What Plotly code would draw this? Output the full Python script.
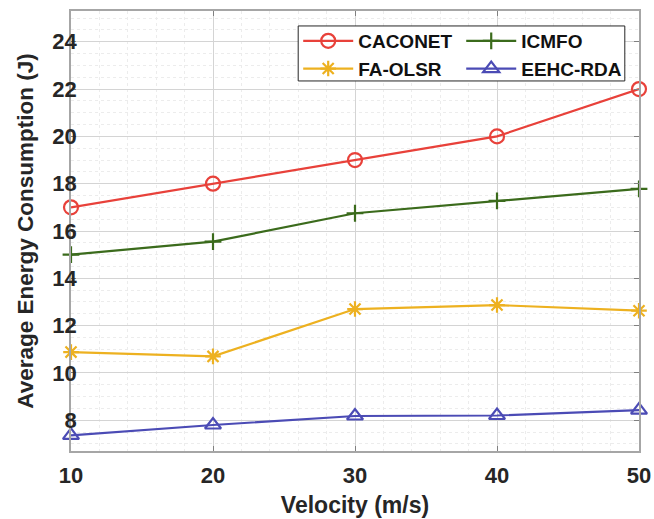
import plotly.graph_objects as go

velocity = [10, 20, 30, 40, 50]
caconet = [17.0, 18.0, 19.0, 20.0, 22.0]
icmfo = [15.0, 15.55, 16.75, 17.27, 17.78]
fa_olsr = [10.88, 10.7, 12.7, 12.87, 12.63]
eehc_rda = [7.36, 7.8, 8.18, 8.2, 8.43]

series = [
    ("CACONET", caconet, "#e8413a", "circle-open", 14, "legend"),
    ("ICMFO", icmfo, "#3b6b1c", "cross-thin-open", 12, "legend2"),
    ("FA-OLSR", fa_olsr, "#edb120", "asterisk-open", 13, "legend"),
    ("EEHC-RDA", eehc_rda, "#4b4bb5", "triangle-up-open", 14, "legend2"),
]

fig = go.Figure()
for name, vals, color, sym, size, leg in series:
    fig.add_trace(go.Scatter(
        x=velocity, y=vals, name=name, mode="lines+markers",
        line=dict(color=color, width=2.2),
        marker=dict(symbol=sym, size=size, color=color,
                    line=dict(color=color, width=2.2)),
        cliponaxis=False, legend=leg,
    ))

font_family = "Liberation Sans, Arial, sans-serif"
legend_font = dict(size=19, family=font_family, color="#111111", weight="bold")

fig.update_layout(
    width=654, height=519,
    margin=dict(l=71, r=15, t=11, b=68),
    paper_bgcolor="white", plot_bgcolor="white",
    font=dict(family=font_family, color="#262626"),
    showlegend=True,
    legend=dict(
        x=0.4, xanchor="left", y=0.975, yanchor="top",
        bgcolor="rgba(0,0,0,0)", borderwidth=0,
        font=legend_font, itemwidth=50, tracegroupgap=0,
    ),
    legend2=dict(
        x=0.687, xanchor="left", y=0.975, yanchor="top",
        bgcolor="rgba(0,0,0,0)", borderwidth=0,
        font=legend_font, itemwidth=50, tracegroupgap=0,
    ),
    shapes=[dict(
        type="rect", xref="paper", yref="paper",
        x0=0.4, x1=0.975, y0=0.841, y1=0.966,
        line=dict(color="#262626", width=1), fillcolor="white", layer="above",
    )],
)

fig.update_xaxes(
    range=[10, 50], tickvals=velocity,
    ticks="inside", ticklen=5, tickcolor="#808080",
    showline=True, linecolor="#a6a6a6", linewidth=1.5, mirror="ticks",
    showgrid=True, gridcolor="#d4d4d4", gridwidth=1,
    minor=dict(dtick=2, showgrid=True, gridcolor="#ececec", griddash="dot", ticks=""),
    tickfont=dict(size=22, family=font_family, color="#262626", weight="bold"),
    ticklabelstandoff=4, automargin=False,
    title=dict(text="Velocity (m/s)", standoff=10,
               font=dict(size=23, family=font_family, color="#262626", weight="bold")),
    zeroline=False,
)
fig.update_yaxes(
    range=[6.7, 25.3], tickvals=[8, 10, 12, 14, 16, 18, 20, 22, 24],
    ticks="inside", ticklen=5, tickcolor="#808080",
    showline=True, linecolor="#a6a6a6", linewidth=1.5, mirror="ticks",
    showgrid=True, gridcolor="#d4d4d4", gridwidth=1,
    minor=dict(dtick=0.5, showgrid=True, gridcolor="#ececec", griddash="dot", ticks=""),
    tickfont=dict(size=22, family=font_family, color="#262626", weight="bold"),
    ticklabelstandoff=-12, automargin=False,
    title=dict(text="Average Energy Consumption (J)", standoff=12,
               font=dict(size=22.5, family=font_family, color="#262626", weight="bold")),
    zeroline=False,
)

fig.write_html("out.html")
